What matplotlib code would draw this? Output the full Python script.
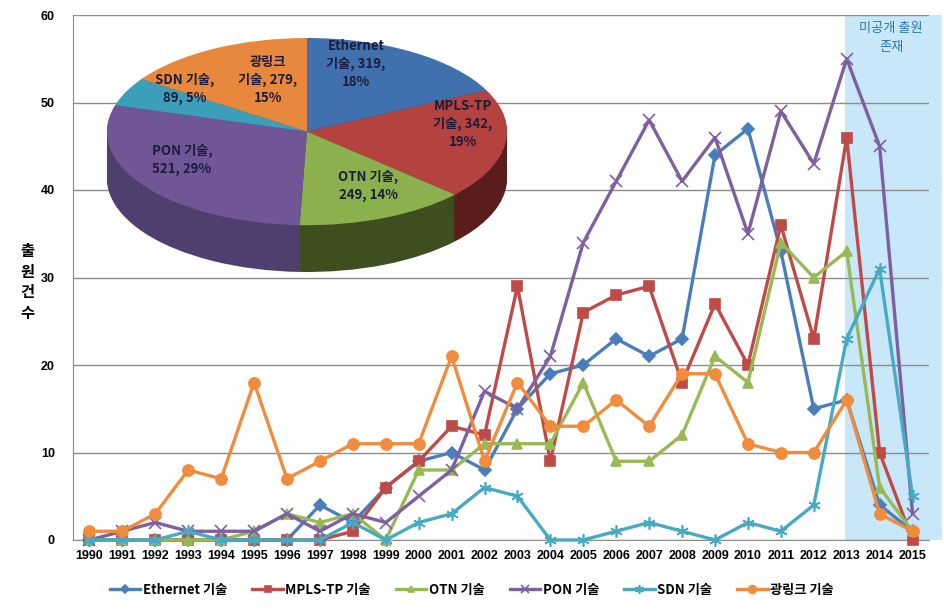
import numpy as np
import matplotlib
matplotlib.use('Agg')
import matplotlib.pyplot as plt
from matplotlib.patches import Rectangle

plt.rcParams['font.family'] = ['Noto Sans CJK KR', 'DejaVu Sans']

# ---- data ----
years = list(range(1990, 2016))
ethernet = [0, 0, 0, 0, 0, 0, 0, 4, 2, 6, 9, 10, 8, 15, 19, 20, 23, 21, 23, 44, 47, 33, 15, 16, 4, 1]
mpls_tp = [0, 0, 0, 0, 0, 0, 0, 0, 1, 6, 9, 13, 12, 29, 9, 26, 28, 29, 18, 27, 20, 36, 23, 46, 10, 0]
otn = [0, 0, 0, 0, 0, 1, 3, 2, 3, 0, 8, 8, 11, 11, 11, 18, 9, 9, 12, 21, 18, 34, 30, 33, 6, 1]
pon = [0, 1, 2, 1, 1, 1, 3, 1, 3, 2, 5, 8, 17, 15, 21, 34, 41, 48, 41, 46, 35, 49, 43, 55, 45, 3]
sdn = [0, 0, 0, 1, 0, 0, 0, 0, 2, 0, 2, 3, 6, 5, 0, 0, 1, 2, 1, 0, 2, 1, 4, 23, 31, 5]
optlink = [1, 1, 3, 8, 7, 18, 7, 9, 11, 11, 11, 21, 9, 18, 13, 13, 16, 13, 19, 19, 11, 10, 10, 16, 3, 1]

series_names = ['Ethernet 기술', 'MPLS-TP 기술', 'OTN 기술', 'PON 기술', 'SDN 기술', '광링크 기술']
pie_values = [319, 342, 249, 521, 89, 279]
pie_labels = ['Ethernet\n기술, 319,\n18%', 'MPLS-TP\n기술, 342,\n19%', 'OTN 기술,\n249, 14%',
              'PON 기술,\n521, 29%', 'SDN 기술,\n89, 5%', '광링크\n기술, 279,\n15%']

colors = ['#4a7ebb', '#be4b48', '#98b954', '#7d60a0', '#46aac5', '#f08c3c']
pie_top = ['#4070ad', '#b44340', '#8db04f', '#715697', '#3c9fba', '#e8883c']
pie_side = ['#24406a', '#5a1d1c', '#3d4e1f', '#4f3f6e', '#1f5e70', '#8a4a1a']
markers = ['D', 's', '^', 'x', (6, 2, 0), 'o']
msizes = [6, 7, 7, 8, 9, 8]

W, H = 944, 611
fig = plt.figure(figsize=(W / 100, H / 100), dpi=100)
ax = fig.add_axes([73 / W, 1 - 540 / H, (929 - 73) / W, (540 - 15) / H])

x = np.arange(len(years))
# shaded "unpublished" zone 2013-2015
ax.add_patch(Rectangle((22.95, 0), 2.95, 60, facecolor='#c8e7f9', edgecolor='none',
                       zorder=0, clip_on=False))

data = [ethernet, mpls_tp, otn, pon, sdn, optlink]
lines = []
for i, (vals, name) in enumerate(zip(data, series_names)):
    ln, = ax.plot(x, vals, color=colors[i], lw=2.4, marker=markers[i], ms=msizes[i],
                  mew=1.2, mec=colors[i], mfc=colors[i], label=name, zorder=3 + i, clip_on=False)
    lines.append(ln)

ax.set_xlim(-0.5, 25.5)
ax.set_ylim(0, 60)
ax.set_yticks(range(0, 61, 10))
ax.set_xticks(x)
ax.set_xticklabels([str(y) for y in years])
ax.grid(axis='y', color='#8c8c8c', lw=1, zorder=1)
ax.set_axisbelow(True)
for s in ['top', 'right']:
    ax.spines[s].set_visible(False)
for s in ['left', 'bottom']:
    ax.spines[s].set_color('#8c8c8c')
ax.tick_params(axis='both', length=0)
ax.tick_params(axis='y', pad=13)
ax.tick_params(axis='x', pad=7)
for t in ax.get_xticklabels() + ax.get_yticklabels():
    t.set_fontfamily('Liberation Sans')
    t.set_fontweight('bold')
    t.set_fontsize(9)

ax.text(24.35, 57.4, '미공개 출원\n존재', ha='center', va='center', fontsize=9.5,
        color='#2a78aa', linespacing=1.6, zorder=10)

fig.text(27 / W, 1 - 282 / H, '출\n원\n건\n수', ha='center', va='center', fontsize=11,
         fontweight='bold', linespacing=1.35)

fig.legend(handles=lines, loc='center', bbox_to_anchor=(0.5, 1 - 590 / H), ncol=6,
           frameon=False, prop={'weight': 'bold', 'size': 9.5}, handlelength=2.3,
           columnspacing=1.9, handletextpad=0.2, markerscale=0.7)

# ---- 3D-looking pie inset ----
pax = fig.add_axes([107 / W, 1 - 272 / H, 400 / W, 234 / H])
depth = 0.5
for k in np.linspace(depth, 0.01, 40):
    pax.pie(pie_values, colors=pie_side, startangle=90, counterclock=False,
            center=(0, -k), radius=1, wedgeprops={'linewidth': 0})
pax.pie(pie_values, colors=pie_top, startangle=90, counterclock=False,
        center=(0, 0), radius=1, wedgeprops={'linewidth': 0})
pax.set_aspect('auto')
pax.set_xlim(-1, 1)
pax.set_ylim(-1 - depth, 1)
pax.axis('off')

label_pos = [(356, 64), (463, 124), (368, 186), (182, 160), (185, 89), (268, 80)]
for lab, (lx, ly) in zip(pie_labels, label_pos):
    fig.text(lx / W, 1 - ly / H, lab, ha='center', va='center', fontsize=9.5,
             fontweight='bold', color='#1c1c3c', linespacing=1.35)

fig.savefig('out.png', dpi=100)
